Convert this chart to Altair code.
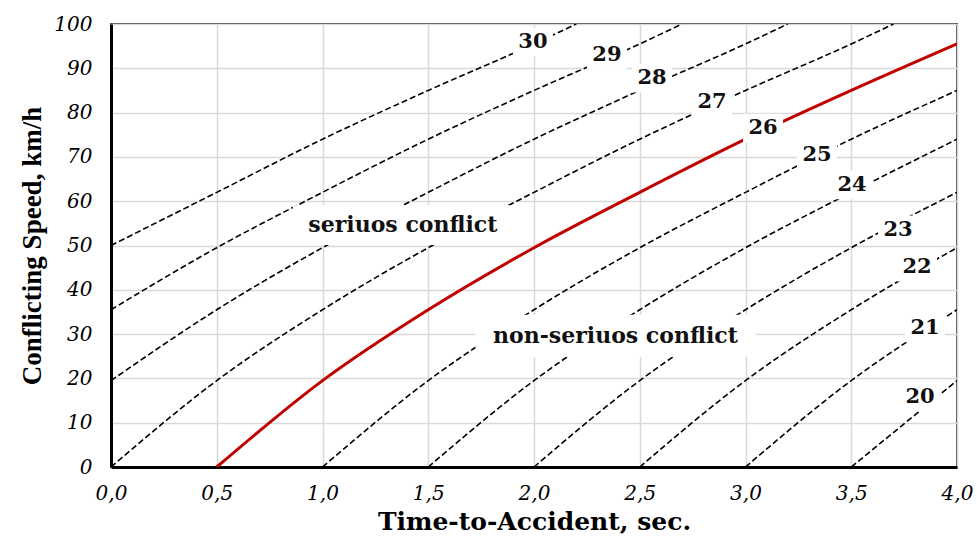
import altair as alt
import pandas as pd

# ---- data ----
curve_names = ["30", "29", "28", "27", "26", "25", "24", "23", "22", "21", "20"]
curve_times = [
    [0.0, 0.5, 1.0, 1.5, 2.0, 2.2],
    [0.0, 0.5, 1.0, 1.5, 2.0, 2.5, 2.7],
    [0.0, 0.5, 1.0, 1.5, 2.0, 2.5, 3.0, 3.2],
    [0.0, 0.5, 1.0, 1.5, 2.0, 2.5, 3.0, 3.5, 3.7],
    [0.5, 1.0, 1.5, 2.0, 2.5, 3.0, 3.5, 4.0],
    [1.0, 1.5, 2.0, 2.5, 3.0, 3.5, 4.0],
    [1.5, 2.0, 2.5, 3.0, 3.5, 4.0],
    [2.0, 2.5, 3.0, 3.5, 4.0],
    [2.5, 3.0, 3.5, 4.0],
    [3.0, 3.5, 4.0],
    [3.5, 4.0],
]
curve_speeds = [
    [50, 62, 74, 85, 95.5, 100],
    [35.5, 49.5, 62, 74, 85, 95.5, 100],
    [19.5, 35.5, 49.5, 62, 74, 85, 95.5, 100],
    [0, 19.5, 35.5, 49.5, 62, 74, 85, 95.5, 100],
    [0, 19.5, 35.5, 49.5, 62, 74, 85, 95.5],
    [0, 19.5, 35.5, 49.5, 62, 74, 85],
    [0, 19.5, 35.5, 49.5, 62, 74],
    [0, 19.5, 35.5, 49.5, 62],
    [0, 19.5, 35.5, 49.5],
    [0, 19.5, 35.5],
    [0, 19.5],
]
critical_curve = "26"

label_text = ["30", "29", "28", "27", "26", "25", "24", "23", "22", "21", "20"]
label_time = [1.995, 2.345, 2.558, 2.842, 3.083, 3.338, 3.504, 3.721, 3.811, 3.849, 3.825]
label_speed = [95.9, 93.0, 87.8, 82.4, 76.5, 70.4, 63.7, 53.5, 45.1, 31.4, 15.8]

region_text = ["seriuos conflict", "non-seriuos conflict"]
region_time = [1.38, 2.385]
region_speed = [54.6, 29.6]

x_ticks = [0.0, 0.5, 1.0, 1.5, 2.0, 2.5, 3.0, 3.5, 4.0]
y_ticks = [0, 10, 20, 30, 40, 50, 60, 70, 80, 90, 100]

# ---- tables ----
rows = []
for name, ts, vs in zip(curve_names, curve_times, curve_speeds):
    for i, (t, v) in enumerate(zip(ts, vs)):
        rows.append({"curve": name, "t": t, "v": v, "order": i})
curves = pd.DataFrame(rows)
dashed_df = curves[curves["curve"] != critical_curve]
red_df = curves[curves["curve"] == critical_curve]

labels_df = pd.DataFrame({"label": label_text, "t": label_time, "v": label_speed})
region_df = pd.DataFrame({"label": region_text, "t": region_time, "v": region_speed,
                          "shape": ["M-1,-0.18L1,-0.18L1,0.18L-1,0.18Z",
                                    "M-1,-0.15L1,-0.15L1,0.15L-1,0.15Z"],
                          "size": [220 * 220, 280 * 280]})

SERIF = "DejaVu Serif"

x_enc = alt.X(
    "t:Q",
    scale=alt.Scale(domain=[0, 4], nice=False),
    axis=alt.Axis(
        values=x_ticks,
        labelExpr="replace(format(datum.value, '.1f'), '.', ',')",
        labelFont=SERIF, labelFontStyle="italic", labelFontSize=20, labelColor="black",
        labelPadding=16, labelFlush=False, labelOverlap=False,
        ticks=False, tickSize=0,
        grid=True, gridColor="#d9d9d9", gridWidth=1.5,
        domainColor="black", domainWidth=3,
        title="Time-to-Accident, sec.", titleFont=SERIF, titleFontWeight="bold",
        titleFontSize=25, titleColor="black", titleX=423, titleY=54,
        titleBaseline="middle", titleAlign="center",
    ),
)
y_enc = alt.Y(
    "v:Q",
    scale=alt.Scale(domain=[0, 100], nice=False),
    axis=alt.Axis(
        values=y_ticks,
        labelFont=SERIF, labelFontStyle="italic", labelFontSize=20, labelColor="black",
        labelPadding=19, labelOverlap=False, labelFlush=False,
        ticks=False, tickSize=0,
        grid=True, gridColor="#d9d9d9", gridWidth=1.5,
        domainColor="black", domainWidth=3,
        title="Conflicting Speed, km/h", titleFont="Liberation Serif", titleFontWeight="bold",
        titleFontSize=27, titleColor="black", titleX=-79, titleY=221.5,
        titleBaseline="middle", titleAlign="center", titleAngle=270,
    ),
)

dashed = alt.Chart(dashed_df).mark_line(
    color="black", strokeWidth=1.6, strokeDash=[6, 3], interpolate="monotone", clip=True
).encode(x=x_enc, y=y_enc, detail="curve:N", order="order:Q")

red = alt.Chart(red_df).mark_line(
    color="#c00000", strokeWidth=3, interpolate="monotone", clip=True
).encode(x="t:Q", y="v:Q", order="order:Q")

label_boxes = alt.Chart(labels_df).mark_point(
    shape="M-1,-0.72L1,-0.72L1,0.72L-1,0.72Z", size=1600, filled=True,
    fill="white", opacity=1, strokeWidth=0
).encode(x="t:Q", y="v:Q")

label_texts = alt.Chart(labels_df).mark_text(
    font=SERIF, fontWeight="bold", fontSize=21, color="#111", align="center", baseline="middle"
).encode(x="t:Q", y="v:Q", text="label:N")

region_boxes = alt.Chart(region_df).mark_point(
    filled=True, fill="white", opacity=1, strokeWidth=0
).encode(
    x="t:Q", y="v:Q",
    shape=alt.Shape("shape:N", scale=None),
    size=alt.Size("size:Q", scale=None),
)

region_texts = alt.Chart(region_df).mark_text(
    font=SERIF, fontWeight="bold", fontSize=22, color="#111", align="center", baseline="middle"
).encode(x="t:Q", y="v:Q", text="label:N")

chart = alt.layer(
    dashed, red, label_boxes, region_boxes, label_texts, region_texts
).properties(
    width=846, height=443,
    autosize=alt.AutoSizeParams(type="none"),
    padding={"left": 111, "top": 24, "right": 20, "bottom": 70},
    background="white",
).configure_view(
    stroke="#444444", strokeWidth=2
)

chart.save("out.html", embed_options={"renderer": "svg", "actions": False})
